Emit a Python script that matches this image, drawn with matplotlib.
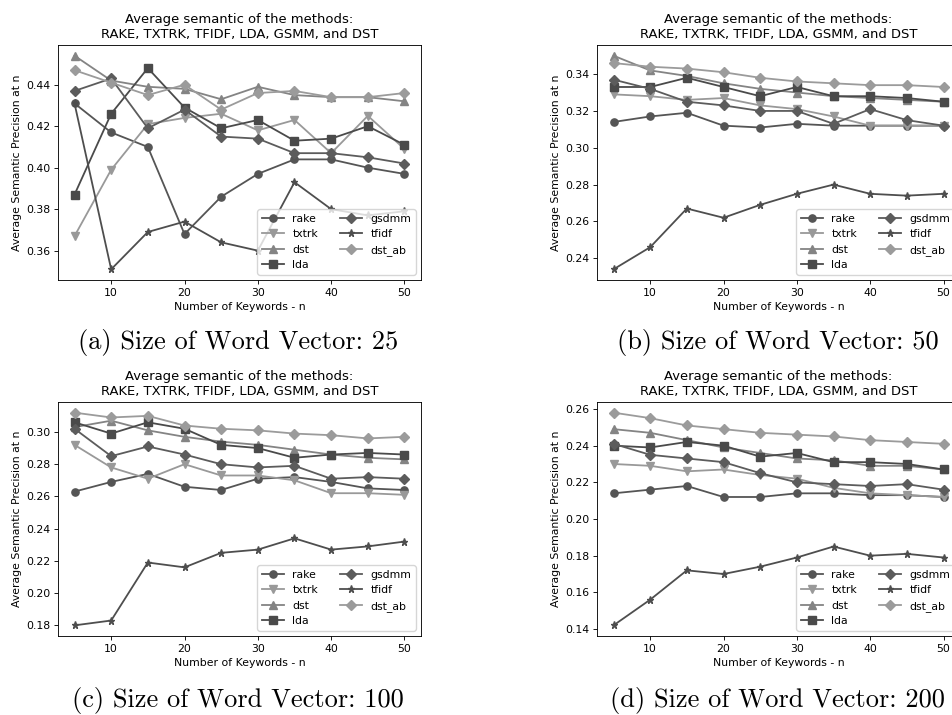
import matplotlib
matplotlib.use("Agg")
import matplotlib.pyplot as plt

# ==========================================
# data
# ==========================================
n_keywords = [5, 10, 15, 20, 25, 30, 35, 40, 45, 50]
methods = ["rake", "txtrk", "dst", "lda", "gsdmm", "tfidf", "dst_ab"]
vector_sizes = [25, 50, 100, 200]
panel_tags = ["(a)", "(b)", "(c)", "(d)"]

# size 25
rake_25 = [0.431, 0.417, 0.410, 0.368, 0.386, 0.397, 0.404, 0.404, 0.400, 0.397]
txtrk_25 = [0.367, 0.399, 0.421, 0.424, 0.426, 0.418, 0.423, 0.407, 0.425, 0.409]
dst_25 = [0.454, 0.442, 0.439, 0.438, 0.433, 0.439, 0.435, 0.434, 0.434, 0.432]
lda_25 = [0.387, 0.426, 0.448, 0.429, 0.419, 0.423, 0.413, 0.414, 0.420, 0.411]
gsdmm_25 = [0.437, 0.443, 0.419, 0.428, 0.415, 0.414, 0.407, 0.407, 0.405, 0.402]
tfidf_25 = [0.431, 0.351, 0.369, 0.374, 0.364, 0.360, 0.393, 0.380, 0.377, 0.379]
dst_ab_25 = [0.447, 0.441, 0.435, 0.440, 0.428, 0.436, 0.437, 0.434, 0.434, 0.436]

# size 50
rake_50 = [0.314, 0.317, 0.319, 0.312, 0.311, 0.313, 0.312, 0.312, 0.312, 0.312]
txtrk_50 = [0.329, 0.328, 0.326, 0.327, 0.323, 0.321, 0.317, 0.312, 0.312, 0.312]
dst_50 = [0.350, 0.342, 0.339, 0.335, 0.332, 0.330, 0.328, 0.327, 0.326, 0.325]
lda_50 = [0.333, 0.333, 0.338, 0.333, 0.328, 0.333, 0.328, 0.328, 0.327, 0.325]
gsdmm_50 = [0.337, 0.332, 0.325, 0.323, 0.320, 0.320, 0.313, 0.321, 0.315, 0.312]
tfidf_50 = [0.234, 0.246, 0.267, 0.262, 0.269, 0.275, 0.280, 0.275, 0.274, 0.275]
dst_ab_50 = [0.346, 0.344, 0.343, 0.341, 0.338, 0.336, 0.335, 0.334, 0.334, 0.333]

# size 100
rake_100 = [0.263, 0.269, 0.274, 0.266, 0.264, 0.271, 0.272, 0.269, 0.265, 0.264]
txtrk_100 = [0.292, 0.278, 0.271, 0.280, 0.273, 0.273, 0.270, 0.262, 0.262, 0.261]
dst_100 = [0.303, 0.307, 0.301, 0.297, 0.294, 0.292, 0.289, 0.286, 0.284, 0.283]
lda_100 = [0.306, 0.299, 0.306, 0.302, 0.292, 0.290, 0.284, 0.286, 0.287, 0.286]
gsdmm_100 = [0.302, 0.285, 0.291, 0.286, 0.280, 0.278, 0.279, 0.271, 0.272, 0.271]
tfidf_100 = [0.180, 0.183, 0.219, 0.216, 0.225, 0.227, 0.234, 0.227, 0.229, 0.232]
dst_ab_100 = [0.312, 0.309, 0.310, 0.304, 0.302, 0.301, 0.299, 0.298, 0.296, 0.297]

# size 200
rake_200 = [0.214, 0.216, 0.218, 0.212, 0.212, 0.214, 0.214, 0.213, 0.213, 0.212]
txtrk_200 = [0.230, 0.229, 0.226, 0.227, 0.224, 0.222, 0.217, 0.214, 0.213, 0.212]
dst_200 = [0.249, 0.247, 0.243, 0.239, 0.236, 0.233, 0.232, 0.229, 0.229, 0.227]
lda_200 = [0.240, 0.239, 0.242, 0.240, 0.234, 0.236, 0.231, 0.231, 0.230, 0.227]
gsdmm_200 = [0.241, 0.235, 0.233, 0.231, 0.225, 0.220, 0.219, 0.218, 0.219, 0.216]
tfidf_200 = [0.142, 0.156, 0.172, 0.170, 0.174, 0.179, 0.185, 0.180, 0.181, 0.179]
dst_ab_200 = [0.258, 0.255, 0.251, 0.249, 0.247, 0.246, 0.245, 0.243, 0.242, 0.241]

panels = [
    [rake_25, txtrk_25, dst_25, lda_25, gsdmm_25, tfidf_25, dst_ab_25],
    [rake_50, txtrk_50, dst_50, lda_50, gsdmm_50, tfidf_50, dst_ab_50],
    [rake_100, txtrk_100, dst_100, lda_100, gsdmm_100, tfidf_100, dst_ab_100],
    [rake_200, txtrk_200, dst_200, lda_200, gsdmm_200, tfidf_200, dst_ab_200],
]

markers = ["o", "v", "^", "s", "D", "*", "D"]
colors = ["#555555", "#999999", "#848484", "#4a4a4a", "#5c5c5c", "#4e4e4e", "#9b9b9b"]

# ==========================================
# look: matplotlib-default style, scaled to the picture
# ==========================================
s = 0.785
plt.rcParams.update({
    "font.size": 10 * s,
    "lines.linewidth": 1.3,
    "lines.markersize": 5.2,
    "axes.linewidth": 0.8 * s,
    "xtick.major.size": 3.5 * s,
    "ytick.major.size": 3.5 * s,
    "xtick.major.width": 0.8 * s,
    "ytick.major.width": 0.8 * s,
    "xtick.major.pad": 3.5 * s,
    "ytick.major.pad": 3.5 * s,
    "axes.titlepad": 6 * s,
    "axes.labelpad": 4 * s,
    "axes.titlesize": 12 * s,
    "axes.labelsize": 10 * s,
    "legend.fontsize": 10 * s,
})

W, H = 953, 715
fig = plt.figure(figsize=(W / 100, H / 100), dpi=100)

# axes boxes in pixels: left, top, right, bottom
boxes = [(58, 45, 421, 280), (597, 45, 960, 280),
         (58, 402, 421, 636), (597, 402, 960, 636)]
caption_xy = [(238, 342), (778, 342), (238, 701), (777, 701)]

for k, vals in enumerate(panels):
    l, t, r, b = boxes[k]
    ax = fig.add_axes([l / W, 1 - b / H, (r - l) / W, (b - t) / H])
    for name, y, m, c in zip(methods, vals, markers, colors):
        ax.plot(n_keywords, y, marker=m, color=c, label=name)
    ax.set_title("Average semantic of the methods:\nRAKE, TXTRK, TFIDF, LDA, GSMM, and DST")
    ax.set_xlabel("Number of Keywords - n")
    ax.set_ylabel("Average Semantic Precision at n")
    ax.set_xticks([10, 20, 30, 40, 50])
    ax.legend(loc="lower right", ncol=2)

    cx, cy = caption_xy[k]
    fig.text(cx / W, 1 - cy / H, f"{panel_tags[k]} Size of Word Vector: {vector_sizes[k]}",
             ha="center", va="center", fontfamily="cmr10", fontsize=19)

fig.savefig("out.png", dpi=100)
